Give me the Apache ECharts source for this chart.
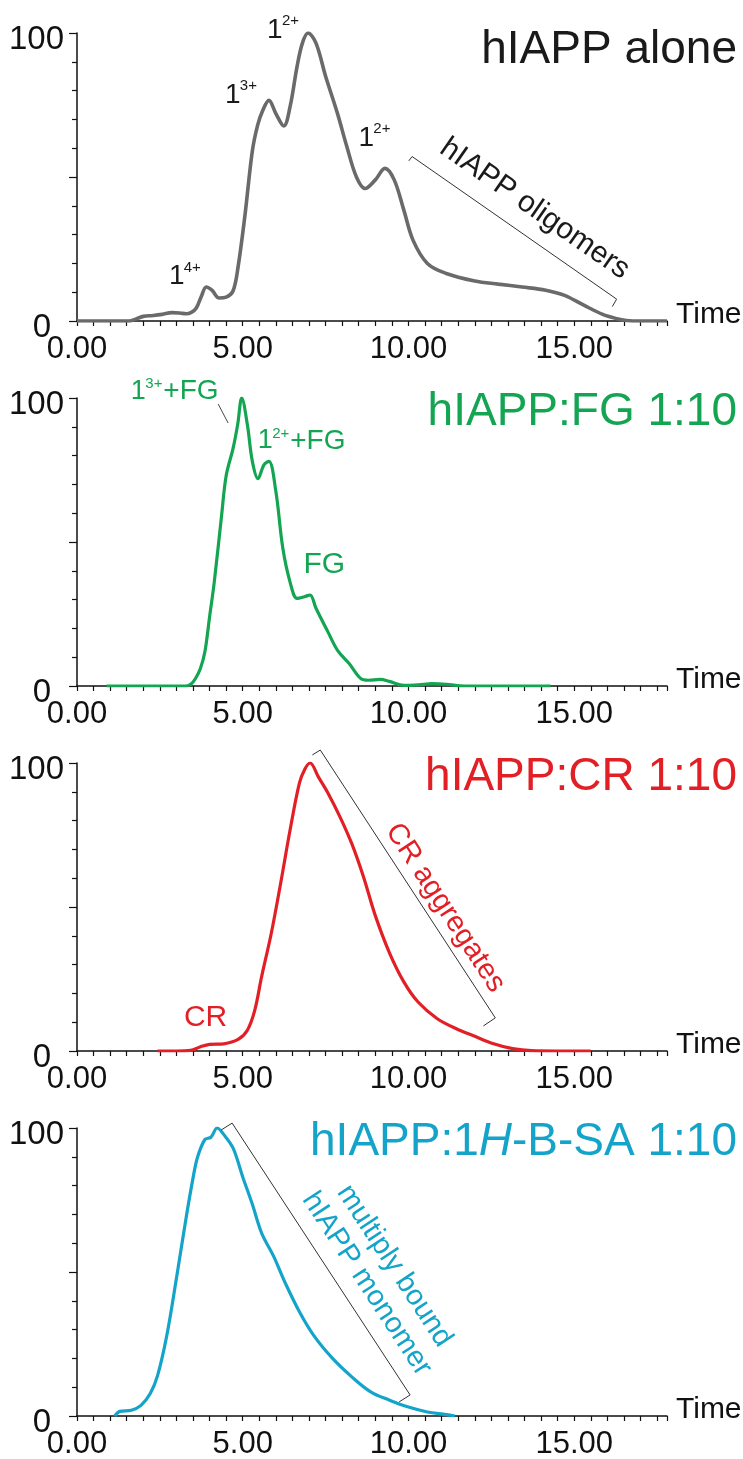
<!DOCTYPE html>
<html><head><meta charset="utf-8">
<script src="https://cdn.jsdelivr.net/npm/echarts/dist/echarts.min.js"></script>
<style>html,body{margin:0;padding:0;background:#fff}#c{width:743px;height:1459px}</style>
</head><body><div id="c"></div>
<script>
const FONT = "'Liberation Sans', Arial, Helvetica, sans-serif";

// ---- data (Time in min, intensity in %) ----
const aloneTime  = [0, 1.0, 1.57, 1.8, 2.0, 2.3, 2.57, 2.86, 3.1, 3.29, 3.45, 3.6, 3.75, 3.9, 4.07, 4.29, 4.5, 4.71, 4.86, 5.07, 5.29, 5.45, 5.6, 5.79, 6.0, 6.24, 6.43, 6.64, 6.8, 6.97, 7.21, 7.5, 7.86, 8.14, 8.43, 8.69, 9.0, 9.29, 9.57, 9.86, 10.14, 10.57, 11.14, 12.0, 12.71, 13.43, 14.14, 14.71, 15.29, 15.86, 16.29, 16.57, 17.0, 17.8];
const aloneValue = [0, 0, 0, 0.8, 1.6, 1.9, 2.3, 2.9, 2.8, 2.5, 3.0, 4.5, 8.5, 11.8, 10.7, 8, 8.3, 10.5, 18.8, 37, 59, 68, 73, 76.6, 72, 67.7, 74.5, 88.4, 96.5, 100, 96.5, 85, 72, 60.6, 50, 46, 49, 53, 49, 38.5, 28, 20, 16.5, 13.9, 12.8, 11.8, 10.7, 8.9, 5.5, 2.3, 0.8, 0.2, 0, 0];

const fgTime  = [0.89, 2.0, 3.29, 3.45, 3.57, 3.72, 3.86, 4.0, 4.14, 4.36, 4.5, 4.71, 4.85, 4.97, 5.14, 5.29, 5.46, 5.64, 5.79, 6.0, 6.21, 6.43, 6.64, 6.86, 7.03, 7.21, 7.57, 7.86, 8.21, 8.57, 8.79, 9.14, 9.43, 9.86, 10.3, 10.71, 11.14, 11.71, 13.0, 14.29];
const fgValue = [0, 0, 0, 0.8, 2.5, 6, 12, 24, 36, 59, 73, 82.6, 91, 100, 90.7, 78, 72, 76.8, 78, 67.5, 47.8, 36, 30.4, 31, 31.6, 27, 18.8, 12.4, 7.8, 2.5, 2, 2.3, 1.6, 0.2, 0.4, 0.8, 0.6, 0, 0, 0];

const crTime  = [2.43, 3.0, 3.43, 3.71, 4.0, 4.43, 4.86, 5.14, 5.36, 5.57, 5.86, 6.14, 6.43, 6.71, 6.88, 7.03, 7.29, 7.57, 7.93, 8.29, 8.64, 9.0, 9.43, 9.86, 10.29, 10.86, 11.43, 12.0, 12.57, 13.14, 13.71, 14.5, 15.5];
const crValue = [0, 0, 0.2, 1.4, 2.3, 2.5, 4, 7.2, 14, 25.8, 40.8, 58, 76.8, 93, 98, 100, 95, 89.6, 81.4, 72, 60.6, 47, 34, 24, 17, 11.3, 7.8, 5.1, 2.5, 0.8, 0.1, 0, 0];

const bsaTime  = [1.14, 1.29, 1.64, 1.93, 2.21, 2.43, 2.71, 3.0, 3.29, 3.5, 3.64, 3.86, 4.04, 4.23, 4.43, 4.71, 5.0, 5.29, 5.57, 5.93, 6.29, 6.71, 7.14, 7.71, 8.29, 8.86, 9.43, 10.0, 10.57, 11.14, 11.4];
const bsaValue = [0, 1.6, 2, 3.7, 7.8, 14, 28, 47.8, 68.7, 82.6, 90, 96, 96.8, 100, 97.7, 93, 83, 73.5, 63.5, 55.5, 46, 36.2, 28, 20, 13.6, 8.4, 5.5, 3.1, 1.4, 0.5, 0];

// axis ticks
const xMax = 17.8;
const xLabelStep = 5;
const yLabels = [0, 100];

// panel titles / colours
const panelTitles = ['hIAPP alone', 'hIAPP:FG 1:10', 'hIAPP:CR 1:10', '{n|hIAPP:1}{i|H}{n|-B-SA 1:10}'];
const panelColors = ['#6a6a6a', '#13a552', '#e31f26', '#15a4c9'];
const titleColors = ['#1a1a1a', '#13a552', '#e31f26', '#15a4c9'];
const seriesTimes = [aloneTime, fgTime, crTime, bsaTime];
const seriesValues = [aloneValue, fgValue, crValue, bsaValue];
const seriesNames = ['hIAPP alone', 'hIAPP:FG 1:10', 'hIAPP:CR 1:10', 'hIAPP:1H-B-SA 1:10'];

// annotations (data coordinates: [time, %])
const peakLabels = [ // panel, t, v, base, sup, tail
  [0, 3.01, 15.5, '1', '4+', ''],
  [0, 4.70, 78.5, '1', '3+', ''],
  [0, 5.97, 101.0, '1', '2+', ''],
  [0, 8.73, 63.5, '1', '2+', ''],
  [1, 1.85, 102.4, '1', '3+', '+FG'],
  [1, 5.68, 85.1, '1', '2+', '+FG']
];
const plainLabels = [ // panel, t, v, text
  [1, 7.46, 42, 'FG'],
  [2, 3.88, 11.5, 'CR']
];
const leaderLines = [ [1, [[4.26, 97.9], [4.56, 91.3]]] ];
const brackets = [ // panel, points, text centre, text
  [0, [[10.01, 55.6], [10.11, 57.1], [16.28, 7.6], [16.15, 5.0]], [13.81, 38.9], 'hIAPP oligomers'],
  [2, [[7.10, 102.8], [7.34, 104.5], [12.62, 11.5], [12.26, 8.7]], [11.11, 49.7], 'CR aggregates'],
  [3, [[4.35, 99.3], [4.68, 101.7], [10.05, 7.3], [9.72, 4.9]], [9.16, 49.0], 'multiply bound\nhIAPP monomer']
];

// ---- layout ----
const GRID_TOP0 = 33, GRID_STEP = 365, GRID_H = 288, GRID_LEFT = 77, GRID_RIGHT = 76;
const AXIS_COLOR = '#111';

const grids = [], xAxes = [], yAxes = [], series = [];
for (let i = 0; i < 4; i++) {
  grids.push({ left: GRID_LEFT, right: GRID_RIGHT, top: GRID_TOP0 + GRID_STEP * i, height: GRID_H, containLabel: false, outerBoundsMode: 'none' });
  xAxes.push({
    gridIndex: i, type: 'value', min: 0, max: xMax, interval: 0.5,
    axisLine: { show: true, onZero: false, lineStyle: { color: AXIS_COLOR, width: 1.5 } },
    axisTick: { show: true, inside: false, length: 5, lineStyle: { color: AXIS_COLOR, width: 1.2 } },
    axisLabel: { show: true, margin: 13, fontSize: 31, fontFamily: FONT, color: AXIS_COLOR, showMaxLabel: true, showMinLabel: true,
      formatter: v => (Math.abs(v % xLabelStep) < 1e-9 ? v.toFixed(2) : '') },
    splitLine: { show: false },
    name: '{t|Time}', nameLocation: 'end', nameGap: 9,
    nameTextStyle: { fontSize: 30, fontFamily: FONT, color: AXIS_COLOR,
      rich: { t: { fontSize: 30, fontFamily: FONT, color: AXIS_COLOR, padding: [0, 0, 13, 0] } } }
  });
  yAxes.push({
    gridIndex: i, type: 'value', min: 0, max: 100, interval: 50,
    axisLine: { show: true, lineStyle: { color: AXIS_COLOR, width: 1.5 } },
    axisTick: { show: true, length: 8, lineStyle: { color: AXIS_COLOR, width: 1.2 } },
    minorTick: { show: true, splitNumber: 5, length: 5, lineStyle: { color: AXIS_COLOR, width: 1.2 } },
    axisLabel: { margin: 13, fontSize: 33, fontFamily: FONT, color: AXIS_COLOR,
      formatter: v => (v === yLabels[0] ? '{z|' + v + '}' : (v === yLabels[1] ? '{h|' + v + '}' : '')),
      rich: {
        z: { fontSize: 33, fontFamily: FONT, color: AXIS_COLOR, padding: [14, 13, 0, 0] },
        h: { fontSize: 33, fontFamily: FONT, color: AXIS_COLOR, padding: [14, 0, 0, 0] }
      } },
    splitLine: { show: false },
    name: '%', nameLocation: 'middle', nameRotate: 90, nameGap: 24,
    nameTextStyle: { fontSize: 32, fontFamily: FONT, color: AXIS_COLOR }
  });
  series.push({
    name: seriesNames[i], type: 'line', xAxisIndex: i, yAxisIndex: i,
    data: seriesTimes[i].map((t, k) => [t, seriesValues[i][k]]),
    showSymbol: false, smooth: 0.35, silent: true,
    lineStyle: { color: panelColors[i], width: i === 0 ? 3.6 : 3.2 },
    z: 3
  });
}

const chart = echarts.init(document.getElementById('c'), null, { renderer: 'canvas' });
chart.setOption({
  backgroundColor: '#fff', animation: false,
  grid: grids, xAxis: xAxes, yAxis: yAxes, series: series
});

// ---- annotations, positioned from data coordinates ----
const px = (g, p) => chart.convertToPixel({ gridIndex: g }, p);
const graphics = [];

for (let i = 0; i < 4; i++) {
  graphics.push({
    type: 'text', x: 737, y: GRID_TOP0 + GRID_STEP * i + (i === 0 ? 17 : 14), z: 10,
    style: {
      text: panelTitles[i], fill: titleColors[i], fontSize: 46, fontFamily: FONT,
      textAlign: 'right', textVerticalAlign: 'middle',
      rich: {
        n: { fontSize: 46, fontFamily: FONT, fill: titleColors[i] },
        i: { fontSize: 46, fontFamily: FONT, fontStyle: 'italic', fill: titleColors[i] }
      }
    }
  });
}

peakLabels.forEach(([g, t, v, base, sup, tail]) => {
  const [x, y] = px(g, [t, v]);
  const col = g === 0 ? '#1a1a1a' : panelColors[g];
  const size = g === 0 ? 28 : 27;
  const supDy = g === 0 ? -9 : -7;
  graphics.push({ type: 'text', x: x, y: y, z: 10,
    style: { text: base, fill: col, fontSize: size, fontFamily: FONT, textAlign: 'center', textVerticalAlign: 'middle' } });
  graphics.push({ type: 'text', x: x + 7, y: y + supDy, z: 10,
    style: { text: sup, fill: col, fontSize: 15, fontFamily: FONT, textAlign: 'left', textVerticalAlign: 'middle' } });
  if (tail) graphics.push({ type: 'text', x: x + 25, y: y, z: 10,
    style: { text: tail, fill: col, fontSize: 28, fontFamily: FONT, textAlign: 'left', textVerticalAlign: 'middle' } });
});

plainLabels.forEach(([g, t, v, txt]) => {
  const [x, y] = px(g, [t, v]);
  graphics.push({ type: 'text', x: x, y: y, z: 10,
    style: { text: txt, fill: panelColors[g], fontSize: 30, fontFamily: FONT, textAlign: 'center', textVerticalAlign: 'middle' } });
});

leaderLines.forEach(([g, pts]) => {
  graphics.push({ type: 'polyline', z: 9, shape: { points: pts.map(p => px(g, p)) },
    style: { stroke: '#333', lineWidth: 0.9, fill: null } });
});

brackets.forEach(([g, pts, c, txt]) => {
  const P = pts.map(p => px(g, p));
  graphics.push({ type: 'polyline', z: 9, shape: { points: P }, style: { stroke: '#333', lineWidth: 1, fill: null } });
  const ang = Math.atan2(P[2][1] - P[1][1], P[2][0] - P[1][0]);
  const [cx, cy] = px(g, c);
  graphics.push({ type: 'text', x: cx, y: cy, rotation: -ang, z: 10,
    style: { text: txt, fill: g === 0 ? '#1a1a1a' : panelColors[g], fontSize: g === 0 ? 30 : 29, fontFamily: FONT,
      lineHeight: 33, textAlign: 'center', textVerticalAlign: 'middle' } });
});

chart.setOption({ graphic: { elements: graphics } });
</script>
</body></html>
